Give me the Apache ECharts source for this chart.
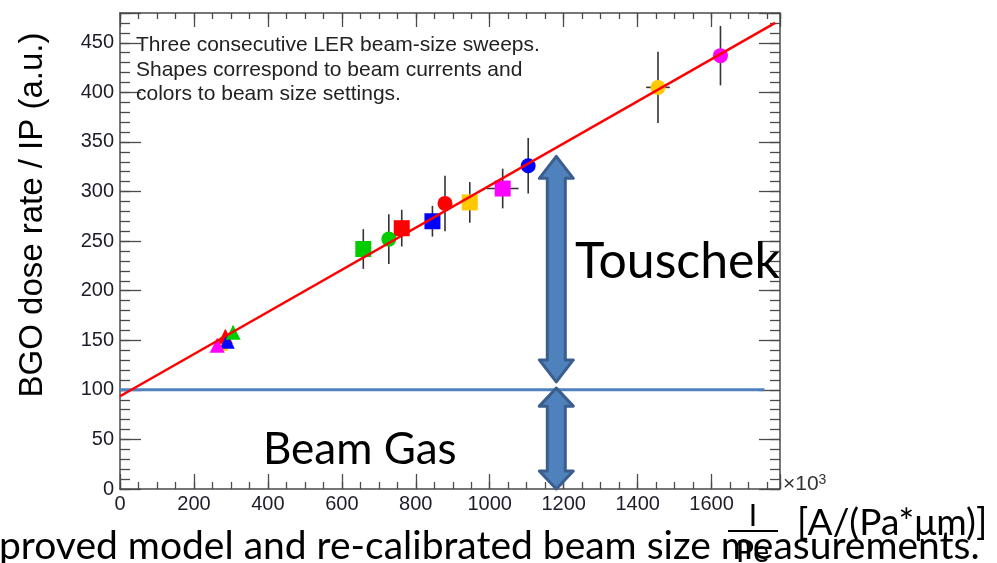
<!DOCTYPE html>
<html>
<head>
<meta charset="utf-8">
<script src="https://cdn.jsdelivr.net/npm/echarts@6/dist/echarts.min.js"></script>
<style>
html, body { margin: 0; padding: 0; background: #fff; overflow: hidden; }
#chart { width: 997px; height: 563px; }
</style>
</head>
<body>
<div id="chart"></div>
<script>
// Axis ranges (x in units of 10^3 A/(Pa*um))
const xRange = [0, 1785];
const yRange = [0, 480];

// Square markers: one beam current
const squareX = [658, 762, 845, 946, 1035];
const squareY = [242, 263, 270, 289, 303];
const squareYErr = [20, 18.5, 15.5, 20.5, 20];
const squareXErr = [0, 0, 0, 0, 43];
const squareSetting = ['green', 'red', 'blue', 'orange', 'magenta'];

// Circle markers: second beam current
const circleX = [727, 879, 1104, 1455, 1624];
const circleY = [252, 288, 326, 405, 437];
const circleYErr = [25, 28, 28, 36, 30];
const circleXErr = [0, 0, 0, 32, 0];
const circleSetting = ['green', 'red', 'blue', 'orange', 'magenta'];

// Triangle markers: third beam current
const triangleX = [273, 285, 290, 306, 263];
const triangleY = [147, 154, 149, 158, 145];
const triangleYErr = [6, 6, 6, 6, 6];
const triangleXErr = [0, 0, 0, 0, 0];
const triangleSetting = ['orange', 'red', 'blue', 'green', 'magenta'];

// Linear fit and beam-gas baseline
const fitLine = [[0, 93.5], [1772, 470]];
const beamGasLevel = 100;
const beamGasExtent = [0, 1743];

// Double arrows marking the two components: [x, yTop, yBottom]
const touschekArrow = [1180, 335.5, 108];
const beamGasArrow = [1180, 101.7, 0];

const colorOf = {
  red: '#FF0000', green: '#00CC00', blue: '#0000FF',
  orange: '#FFC800', magenta: '#FF00FF'
};

function points(xs, ys, settings) {
  return xs.map((x, i) => ({ value: [x, ys[i]], itemStyle: { color: colorOf[settings[i]], opacity: 1 } }));
}
function errors(xs, ys, xe, ye) {
  return xs.map((x, i) => [x, ys[i], xe[i], ye[i]]);
}

const frameColor = '#4a4a4a';
const labelFont = 'Liberation Sans';

function xAxisCfg(pos, interval, len, withLabel, withLine) {
  return {
    type: 'value', position: pos, min: xRange[0], max: xRange[1], interval: interval,
    axisLine: { show: withLine, onZero: false, lineStyle: { color: frameColor, width: 1.5 } },
    axisTick: { show: true, inside: true, length: len, lineStyle: { color: frameColor, width: 1.3 } },
    axisLabel: {
      show: withLabel, margin: 5, color: '#1d1d2a', fontFamily: labelFont, fontSize: 20,
      formatter: v => (v % 200 === 0 && v <= 1600) ? String(v) : ''
    },
    splitLine: { show: false }
  };
}
function yAxisCfg(pos, interval, len, withLabel, withLine) {
  return {
    type: 'value', position: pos, min: yRange[0], max: yRange[1], interval: interval,
    axisLine: { show: withLine, onZero: false, lineStyle: { color: frameColor, width: 1.5 } },
    axisTick: { show: true, inside: true, length: len, lineStyle: { color: frameColor, width: 1.3 } },
    axisLabel: {
      show: withLabel, margin: 6, color: '#1d1d2a', fontFamily: labelFont, fontSize: 20,
      formatter: v => (v % 50 === 0) ? String(v) : ''
    },
    splitLine: { show: false }
  };
}

const chart = echarts.init(document.getElementById('chart'), null, { renderer: 'canvas' });

const errorBarSeries = (data) => ({
  type: 'custom',
  xAxisIndex: 0, yAxisIndex: 0,
  z: 2,
  silent: true,
  data: data,
  renderItem: function (params, api) {
    const x = api.value(0), y = api.value(1), xe = api.value(2), ye = api.value(3);
    const children = [];
    const style = { stroke: '#333', lineWidth: 1.6 };
    if (ye > 0) {
      const a = api.coord([x, y + ye]), b = api.coord([x, y - ye]);
      children.push({ type: 'line', shape: { x1: a[0], y1: a[1], x2: b[0], y2: b[1] }, style: style });
    }
    if (xe > 0) {
      const a = api.coord([x - xe, y]), b = api.coord([x + xe, y]);
      children.push({ type: 'line', shape: { x1: a[0], y1: a[1], x2: b[0], y2: b[1] }, style: style });
    }
    return { type: 'group', children: children };
  }
});

const option = {
  animation: false,
  backgroundColor: '#ffffff',
  grid: { left: 120, right: 217, top: 13, bottom: 74, containLabel: false },
  xAxis: [
    xAxisCfg('bottom', 200, 15, true, true),
    xAxisCfg('bottom', 50, 7, false, false),
    xAxisCfg('top', 200, 14, false, true),
    xAxisCfg('top', 50, 6, false, false)
  ],
  yAxis: [
    yAxisCfg('left', 50, 21, true, true),
    yAxisCfg('left', 10, 10, false, false),
    yAxisCfg('right', 50, 21, false, true),
    yAxisCfg('right', 10, 10, false, false)
  ],
  series: [
    {
      name: 'beam gas', type: 'line', xAxisIndex: 0, yAxisIndex: 0, z: 1,
      data: beamGasExtent.map(x => [x, beamGasLevel]),
      symbol: 'none', lineStyle: { color: '#4F81BD', width: 3 }
    },
    errorBarSeries(errors(squareX, squareY, squareXErr, squareYErr)),
    errorBarSeries(errors(circleX, circleY, circleXErr, circleYErr)),
    errorBarSeries(errors(triangleX, triangleY, triangleXErr, triangleYErr)),
    {
      name: 'squares', type: 'scatter', xAxisIndex: 0, yAxisIndex: 0, z: 3,
      symbol: 'rect', symbolSize: 16, data: points(squareX, squareY, squareSetting)
    },
    {
      name: 'circles', type: 'scatter', xAxisIndex: 0, yAxisIndex: 0, z: 3,
      symbol: 'circle', symbolSize: 15, data: points(circleX, circleY, circleSetting)
    },
    {
      name: 'triangles', type: 'scatter', xAxisIndex: 0, yAxisIndex: 0, z: 3,
      symbol: 'triangle', symbolSize: 15, data: points(triangleX, triangleY, triangleSetting)
    },
    {
      name: 'fit', type: 'line', xAxisIndex: 0, yAxisIndex: 0, z: 4,
      data: fitLine, symbol: 'none', lineStyle: { color: '#FF0000', width: 2.5 }
    }
  ]
};
chart.setOption(option);

// Double-headed block arrow between two pixel heights
function doubleArrow(cx, yTop, yBot, headHalf, shaftHalf, headLen) {
  return {
    type: 'polygon', z: 50,
    shape: {
      points: [
        [cx, yTop], [cx + headHalf, yTop + headLen], [cx + shaftHalf, yTop + headLen],
        [cx + shaftHalf, yBot - headLen], [cx + headHalf, yBot - headLen], [cx, yBot],
        [cx - headHalf, yBot - headLen], [cx - shaftHalf, yBot - headLen],
        [cx - shaftHalf, yTop + headLen], [cx - headHalf, yTop + headLen]
      ]
    },
    style: { fill: '#4F81BD', stroke: '#3A5F8E', lineWidth: 3, lineJoin: 'round' }
  };
}
const toPx = p => chart.convertToPixel({ xAxisIndex: 0, yAxisIndex: 0 }, p);
const ta = toPx([touschekArrow[0], touschekArrow[1]]);
const tb = toPx([touschekArrow[0], touschekArrow[2]]);
const ga = toPx([beamGasArrow[0], beamGasArrow[1]]);
const gb = toPx([beamGasArrow[0], beamGasArrow[2]]);

const slideFont = 'Lato';
chart.setOption({
  graphic: [
    doubleArrow(ta[0], ta[1], tb[1], 17, 9, 22),
    doubleArrow(ga[0], ga[1], gb[1], 17, 9, 18),
    {
      type: 'text', z: 60, style: {
        text: 'Three consecutive LER beam-size sweeps.\nShapes correspond to beam currents and\ncolors to beam size settings.',
        x: 136, y: 33, fill: '#222', font: '21px "Liberation Sans"', lineHeight: 24.5
      }
    },
    {
      type: 'text', z: 60, style: {
        text: 'Touschek', x: 575, y: 262, textVerticalAlign: 'middle',
        fill: '#000', font: '50px ' + slideFont
      }
    },
    {
      type: 'text', z: 60, style: {
        text: 'Beam Gas', x: 263, y: 450, textVerticalAlign: 'middle',
        fill: '#000', font: '44px ' + slideFont
      }
    },
    {
      type: 'text', z: 60, rotation: Math.PI / 2, x: 33, y: 215, style: {
        text: 'BGO dose rate / IP (a.u.)', x: 0, y: 0, textAlign: 'center', textVerticalAlign: 'middle',
        fill: '#000', font: '33px "Liberation Sans"'
      }
    },
    {
      type: 'text', z: 60, style: {
        text: '×10{s|3}', x: 783, y: 484, textVerticalAlign: 'middle',
        fill: '#333', font: '21px "Liberation Sans"',
        rich: { s: { fontSize: 14, fontFamily: 'Liberation Sans', fill: '#333', verticalAlign: 'top', padding: [0, 0, 8, 0] } }
      }
    },
    {
      type: 'text', z: 60, style: {
        text: 'I', x: 753, y: 516, textAlign: 'center', textVerticalAlign: 'middle',
        fill: '#000', font: '30px ' + slideFont
      }
    },
    {
      type: 'rect', z: 60, shape: { x: 728, y: 530, width: 50, height: 2 }, style: { fill: '#000' }
    },
    {
      type: 'text', z: 60, style: {
        text: 'Pe', x: 736, y: 552, textVerticalAlign: 'middle',
        fill: '#000', font: '30px ' + slideFont
      }
    },
    {
      type: 'text', z: 60, style: {
        text: '[A/(Pa*μm)]', x: 797, y: 523, textVerticalAlign: 'middle',
        fill: '#000', font: '37px ' + slideFont
      }
    },
    {
      type: 'text', z: 61, style: {
        text: 'proved model and re-calibrated beam size measurements.', x: -1, y: 546, textVerticalAlign: 'middle',
        fill: '#000', font: '39px ' + slideFont
      }
    }
  ]
});
</script>
</body>
</html>
